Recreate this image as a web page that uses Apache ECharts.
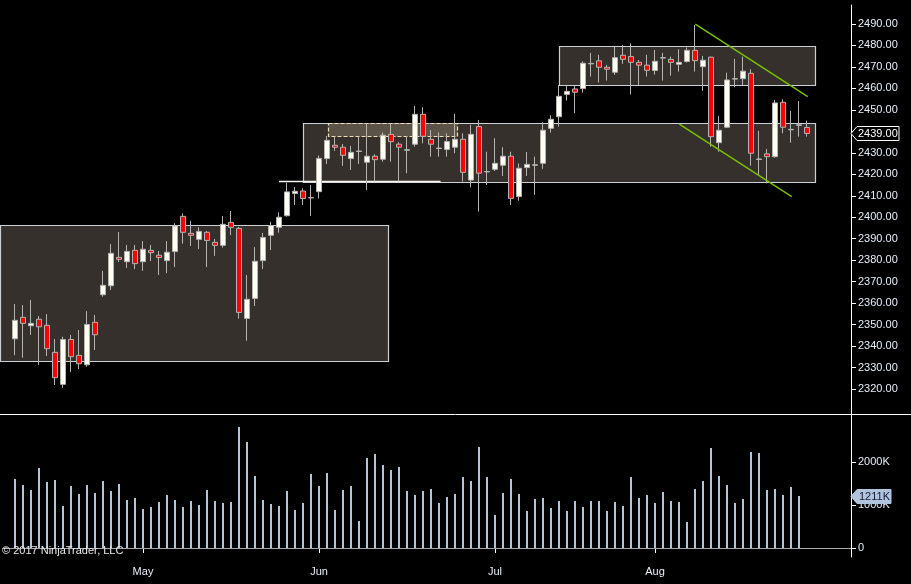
<!DOCTYPE html>
<html>
<head>
<meta charset="utf-8">
<title>ES daily</title>
<script src="https://cdn.jsdelivr.net/npm/echarts@6/dist/echarts.min.js"></script>
<style>
html, body { margin: 0; padding: 0; background: #000; }
#main { width: 911px; height: 584px; }
</style>
</head>
<body>
<div id="main"></div>
<script>
// trading days shown on the chart
var dates = [
	'2017-04-06','2017-04-07','2017-04-10','2017-04-11','2017-04-12','2017-04-13','2017-04-17','2017-04-18',
	'2017-04-19','2017-04-20','2017-04-21','2017-04-24','2017-04-25','2017-04-26','2017-04-27','2017-04-28',
	'2017-05-01','2017-05-02','2017-05-03','2017-05-04','2017-05-05','2017-05-08','2017-05-09','2017-05-10',
	'2017-05-11','2017-05-12','2017-05-15','2017-05-16','2017-05-17','2017-05-18','2017-05-19','2017-05-22',
	'2017-05-23','2017-05-24','2017-05-25','2017-05-26','2017-05-30','2017-05-31',
	'2017-06-01','2017-06-02','2017-06-05','2017-06-06','2017-06-07','2017-06-08','2017-06-09','2017-06-12',
	'2017-06-13','2017-06-14','2017-06-15','2017-06-16','2017-06-19','2017-06-20','2017-06-21','2017-06-22',
	'2017-06-23','2017-06-26','2017-06-27','2017-06-28','2017-06-29','2017-06-30',
	'2017-07-03','2017-07-05','2017-07-06','2017-07-07','2017-07-10','2017-07-11','2017-07-12','2017-07-13',
	'2017-07-14','2017-07-17','2017-07-18','2017-07-19','2017-07-20','2017-07-21','2017-07-24','2017-07-25',
	'2017-07-26','2017-07-27','2017-07-28','2017-07-31',
	'2017-08-01','2017-08-02','2017-08-03','2017-08-04','2017-08-07','2017-08-08','2017-08-09','2017-08-10',
	'2017-08-11','2017-08-14','2017-08-15','2017-08-16','2017-08-17','2017-08-18','2017-08-21','2017-08-22',
	'2017-08-23','2017-08-24','2017-08-25','2017-08-28'
];

// open, close, low, high
var ohlc = [
	[2343.4, 2352.0, 2335.8, 2359.6], [2353.4, 2350.6, 2334.6, 2359.1], [2349.5, 2350.6, 2345.2, 2361.5],
	[2352.5, 2349.0, 2331.2, 2354.0], [2349.7, 2338.8, 2335.4, 2354.9], [2337.1, 2325.3, 2321.9, 2343.3],
	[2322.2, 2343.1, 2320.6, 2344.4], [2343.1, 2335.1, 2327.9, 2345.2], [2335.7, 2331.8, 2329.3, 2347.5],
	[2331.3, 2350.1, 2330.4, 2356.3], [2351.1, 2345.3, 2338.2, 2354.5], [2363.9, 2368.3, 2363.0, 2375.0],
	[2368.1, 2383.2, 2366.1, 2387.5], [2381.3, 2380.4, 2379.2, 2393.1], [2379.3, 2384.1, 2376.4, 2387.1],
	[2384.6, 2378.4, 2375.9, 2387.1], [2379.3, 2385.1, 2375.0, 2388.9], [2384.6, 2383.5, 2379.6, 2387.1],
	[2382.3, 2381.2, 2373.1, 2384.3], [2379.8, 2383.7, 2374.0, 2388.9], [2384.0, 2395.9, 2376.8, 2397.2],
	[2400.4, 2393.0, 2387.7, 2401.8], [2392.5, 2391.6, 2386.6, 2398.3], [2389.7, 2393.4, 2385.2, 2395.3],
	[2393.0, 2389.2, 2376.8, 2393.6], [2388.3, 2386.9, 2382.0, 2389.9], [2386.9, 2396.7, 2385.8, 2400.6],
	[2397.6, 2395.3, 2391.7, 2402.9], [2394.8, 2355.7, 2352.8, 2395.5], [2352.9, 2361.8, 2342.5, 2373.1],
	[2362.2, 2379.5, 2358.7, 2386.1], [2379.8, 2390.6, 2375.9, 2392.7], [2391.6, 2396.1, 2384.7, 2397.9],
	[2395.3, 2400.0, 2392.8, 2402.3], [2400.7, 2411.8, 2400.3, 2416.1], [2411.0, 2412.1, 2405.7, 2414.1],
	[2412.2, 2408.7, 2405.7, 2413.5], [2409.0, 2409.2, 2400.6, 2415.0], [2411.9, 2427.4, 2408.7, 2428.7],
	[2427.3, 2435.8, 2424.8, 2437.8], [2433.5, 2432.6, 2430.9, 2437.5], [2432.6, 2428.8, 2423.9, 2434.1],
	[2427.3, 2430.2, 2422.0, 2433.2], [2430.6, 2430.8, 2424.8, 2437.5], [2425.6, 2428.4, 2412.7, 2443.7],
	[2428.4, 2426.8, 2416.6, 2429.3], [2427.0, 2438.2, 2425.9, 2439.5], [2438.6, 2435.2, 2425.9, 2443.7],
	[2434.0, 2432.6, 2416.6, 2434.9], [2431.2, 2431.4, 2420.5, 2437.8], [2434.0, 2447.9, 2432.9, 2451.8],
	[2447.9, 2437.7, 2434.4, 2451.2], [2436.3, 2434.0, 2428.2, 2440.6], [2432.0, 2432.2, 2428.2, 2439.5],
	[2431.5, 2435.2, 2428.2, 2439.1], [2432.6, 2436.3, 2429.8, 2448.1], [2436.3, 2420.9, 2416.6, 2439.1],
	[2417.3, 2438.6, 2413.9, 2443.0], [2442.2, 2420.5, 2402.6, 2445.3], [2421.1, 2421.3, 2415.0, 2430.5],
	[2422.3, 2425.1, 2421.5, 2436.8], [2424.2, 2428.4, 2419.2, 2432.6], [2428.4, 2408.8, 2405.7, 2430.5],
	[2409.6, 2422.8, 2407.7, 2425.1], [2423.1, 2424.6, 2419.2, 2430.4], [2424.2, 2424.4, 2410.4, 2428.2],
	[2425.1, 2440.5, 2422.5, 2444.2], [2441.4, 2445.6, 2439.4, 2447.5], [2446.8, 2456.3, 2442.2, 2461.6],
	[2457.2, 2458.6, 2454.3, 2461.1], [2459.7, 2458.2, 2448.4, 2461.1], [2459.9, 2471.7, 2458.0, 2472.5],
	[2471.4, 2471.6, 2465.5, 2476.5], [2472.8, 2469.8, 2462.7, 2475.6], [2469.8, 2468.9, 2463.6, 2470.9],
	[2467.5, 2474.3, 2466.3, 2479.4], [2475.4, 2473.5, 2471.4, 2480.2], [2474.8, 2472.1, 2457.1, 2481.0],
	[2472.1, 2470.8, 2461.6, 2473.2], [2470.8, 2468.4, 2465.5, 2475.6], [2468.3, 2472.6, 2466.4, 2477.9],
	[2474.1, 2474.3, 2463.6, 2476.5], [2473.5, 2472.1, 2465.9, 2474.8], [2471.2, 2472.1, 2467.8, 2478.2],
	[2472.5, 2477.7, 2472.0, 2479.0], [2477.7, 2472.9, 2467.8, 2489.5], [2470.1, 2473.1, 2458.8, 2475.1],
	[2474.5, 2437.5, 2432.9, 2474.8], [2434.7, 2440.5, 2430.5, 2447.2], [2441.9, 2463.9, 2441.5, 2467.3],
	[2464.3, 2464.5, 2460.5, 2473.7], [2464.5, 2468.0, 2461.6, 2474.8], [2467.0, 2429.8, 2424.0, 2468.9],
	[2426.9, 2427.1, 2419.4, 2440.2], [2429.5, 2428.2, 2415.8, 2431.8], [2428.2, 2453.2, 2427.7, 2454.6],
	[2453.5, 2441.9, 2439.1, 2454.9], [2440.7, 2440.9, 2434.7, 2449.5], [2442.8, 2443.0, 2437.5, 2454.1],
	[2441.8, 2439.0, 2437.5, 2445.0]
];

// volume in thousands (last bar has none yet)
var volumes = [
	1605, 1465, 1349, 1860, 1535, 1581, 977, 1442, 1256, 1465,
	1279, 1558, 1326, 1488, 1116, 1163, 907, 953, 1070, 1233,
	1116, 953, 1093, 1000, 1349, 1093, 1047, 1070, 2814, 2465,
	1674, 1116, 1023, 977, 1326, 884, 1047, 1721, 1442, 1744,
	884, 1349, 1442, 628, 2093, 2186, 1930, 1814, 1884, 1326,
	1233, 1326, 1372, 1047, 1186, 1256, 1651, 1558, 2349, 1651,
	767, 1279, 1605, 1256, 860, 1140, 1163, 930, 1093, 860,
	1093, 953, 1093, 1093, 860, 1070, 977, 1651, 1163, 1233,
	1047, 1302, 1093, 1070, 605, 1372, 1558, 2326, 1674, 1465,
	1047, 1140, 2233, 2209, 1349, 1372, 1233, 1419, 1211, '-'
];

// drawn objects, x in bar units (0 = first bar), y in price
var zones = [ // x start, x end, low, high
	[-1.875, 46.67, 2333.0, 2396.4],
	[36.0, 100.0, 2416.3, 2443.75],
	[68.0, 100.0, 2461.45, 2479.6]
];
var dashedZones = [
	[39.16, 55.3, 2437.8, 2443.75]
];
var levels = [ // x start, x end, price
	[33.0, 53.2, 2416.75]
];
var trendLines = [ // x1, y1, x2, y2
	[85.04, 2489.9, 99.09, 2456.1],
	[83.04, 2443.3, 97.09, 2409.6]
];

var priceTicks = [2320, 2330, 2340, 2350, 2360, 2370, 2380, 2390, 2400, 2410, 2420, 2430, 2440, 2450, 2460, 2470, 2480, 2490];
var volumeTicks = [0, 1000, 2000];
var monthNames = ['Jan','Feb','Mar','Apr','May','Jun','Jul','Aug','Sep','Oct','Nov','Dec'];

var categories = ['padL'].concat(dates).concat(['padR1', 'padR2', 'padR3', 'padR4', 'padR5']);
var monthStart = {};
for (var i = 1; i < dates.length; i++) {
	if (dates[i].slice(5, 7) !== dates[i - 1].slice(5, 7)) monthStart[dates[i]] = true;
}
var lastIdx = dates.length; // category index of the last bar
var lastClose = ohlc[ohlc.length - 1][1];
var lastVolume = volumes[volumes.length - 2];

var FONT = 'Liberation Sans, Arial, sans-serif';
var LABEL = '#e6eefa';

function barX(api, pos, y) {
	var c = api.coord([1, y]);
	return c[0] + pos * api.size([1, 0])[0];
}

var myChart = echarts.init(document.getElementById('main'));

var option = {
	backgroundColor: '#000',
	animation: false,
	title: {
		text: '\u00a9 2017 NinjaTrader, LLC',
		left: 2, top: 545, padding: 0,
		textStyle: { color: '#e8e8e8', fontSize: 11, fontWeight: 'normal', fontFamily: FONT }
	},
	graphic: [{
		type: 'line', z: 10,
		shape: { x1: 0, y1: 414.5, x2: 911, y2: 414.5 },
		style: { stroke: '#ffffff', lineWidth: 1 }
	}],
	grid: [
		{ left: 3, top: 5, width: 848, height: 409 },
		{ left: 3, top: 414, width: 848, height: 143 }
	],
	xAxis: [{
		type: 'category', gridIndex: 0, data: categories, boundaryGap: true,
		axisLine: { show: false }, axisTick: { show: false }, axisLabel: { show: false }, splitLine: { show: false }
	}, {
		type: 'category', gridIndex: 1, data: categories, boundaryGap: true,
		axisLine: { show: true, lineStyle: { color: '#ffffff', width: 1 } },
		axisTick: {
			show: true, alignWithLabel: true, length: 5, lineStyle: { color: '#ffffff' },
			interval: function (index, value) { return !!monthStart[value]; }
		},
		axisLabel: {
			color: LABEL, fontSize: 11, fontFamily: FONT, margin: 9,
			interval: function (index, value) { return !!monthStart[value]; },
			formatter: function (value) { return monthNames[parseInt(value.slice(5, 7), 10) - 1]; }
		},
		splitLine: { show: false }
	}],
	yAxis: [{
		type: 'value', gridIndex: 0, position: 'right', scale: true,
		min: 2308.4, max: 2498.8,
		axisLine: { show: true, lineStyle: { color: '#ffffff', width: 1 } },
		axisTick: { show: true, length: 5, lineStyle: { color: '#ffffff' }, customValues: priceTicks },
		axisLabel: {
			color: LABEL, fontSize: 11, fontFamily: FONT, margin: 7, customValues: priceTicks,
			formatter: function (v) { return v.toFixed(2); }
		},
		splitLine: { show: false }
	}, {
		type: 'value', gridIndex: 1, position: 'right',
		min: -209, max: 3116,
		axisLine: { show: true, lineStyle: { color: '#ffffff', width: 1 } },
		axisTick: { show: true, length: 5, lineStyle: { color: '#ffffff' }, customValues: volumeTicks },
		axisLabel: {
			color: LABEL, fontSize: 11, fontFamily: FONT, margin: 7, customValues: volumeTicks,
			formatter: function (v) { return v === 0 ? '0' : v + 'K'; }
		},
		splitLine: { show: false }
	}],
	series: [{
		// shaded zones
		type: 'custom', xAxisIndex: 0, yAxisIndex: 0, z: 1, silent: true, clip: false,
		data: zones,
		renderItem: function (params, api) {
			var b = zones[params.dataIndex];
			var x0 = barX(api, b[0], b[3]), x1 = barX(api, b[1], b[3]);
			var yTop = api.coord([1, b[3]])[1], yBot = api.coord([1, b[2]])[1];
			return {
				type: 'rect',
				shape: { x: Math.round(x0) + 0.5, y: Math.round(yTop) + 0.5, width: Math.round(x1 - x0), height: Math.round(yBot - yTop) },
				style: { fill: '#35302b', stroke: '#c8d0d8', lineWidth: 1.2 }
			};
		}
	}, {
		type: 'custom', xAxisIndex: 0, yAxisIndex: 0, z: 2, silent: true,
		data: dashedZones,
		renderItem: function (params, api) {
			var b = dashedZones[params.dataIndex];
			var x0 = barX(api, b[0], b[3]), x1 = barX(api, b[1], b[3]);
			var yTop = api.coord([1, b[3]])[1], yBot = api.coord([1, b[2]])[1];
			return {
				type: 'rect',
				shape: { x: Math.round(x0) + 0.5, y: Math.round(yTop) + 0.5, width: Math.round(x1 - x0), height: Math.round(yBot - yTop) },
				style: { fill: '#5b5248', stroke: '#f2dcb4', lineWidth: 1.2, lineDash: [4, 2] }
			};
		}
	}, {
		type: 'custom', xAxisIndex: 0, yAxisIndex: 0, z: 2, silent: true,
		data: levels,
		renderItem: function (params, api) {
			var l = levels[params.dataIndex];
			var y = Math.round(api.coord([1, l[2]])[1]) + 0.5;
			return {
				type: 'line',
				shape: { x1: barX(api, l[0], l[2]), y1: y, x2: barX(api, l[1], l[2]), y2: y },
				style: { stroke: '#f8f8f0', lineWidth: 1.5 }
			};
		}
	}, {
		type: 'candlestick', xAxisIndex: 0, yAxisIndex: 0, z: 3,
		data: ['-'].concat(ohlc),
		barWidth: 6,
		itemStyle: {
			color: '#fffff2', color0: '#ff0000',
			borderColor: '#b4b4b4', borderColor0: '#b4b4b4', borderWidth: 1
		}
	}, {
		type: 'custom', xAxisIndex: 0, yAxisIndex: 0, z: 4, silent: true,
		data: trendLines,
		renderItem: function (params, api) {
			var t = trendLines[params.dataIndex];
			return {
				type: 'line',
				shape: {
					x1: barX(api, t[0], t[1]), y1: api.coord([1, t[1]])[1],
					x2: barX(api, t[2], t[3]), y2: api.coord([1, t[3]])[1]
				},
				style: { stroke: '#78c000', lineWidth: 1.5 }
			};
		}
	}, {
		// last price tag on the axis
		type: 'custom', xAxisIndex: 0, yAxisIndex: 0, z: 6, silent: true, clip: false,
		data: [[lastIdx, lastClose]],
		renderItem: function (params, api) {
			var y = Math.round(api.coord([lastIdx, lastClose])[1]) + 0.5;
			var ax = params.coordSys.x + params.coordSys.width;
			return {
				type: 'group',
				children: [{
					type: 'polygon',
					shape: { points: [[ax, y], [ax + 6, y - 7], [ax + 48, y - 7], [ax + 48, y + 7], [ax + 6, y + 7]] },
					style: { fill: '#000', stroke: '#ffffff', lineWidth: 1 }
				}, {
					type: 'text',
					style: { text: lastClose.toFixed(2), x: ax + 7, y: y + 0.5, verticalAlign: 'middle', fill: '#ffffff', font: '11px ' + FONT }
				}]
			};
		}
	}, {
		type: 'bar', xAxisIndex: 1, yAxisIndex: 1, z: 3,
		data: ['-'].concat(volumes),
		barWidth: 2,
		itemStyle: { color: '#b0c4de' },
		markLine: {
			silent: true, symbol: 'none', animation: false,
			label: { show: false },
			lineStyle: { color: '#a8a8a8', width: 1, type: 'solid' },
			data: [{ yAxis: 0 }]
		}
	}, {
		// last volume tag on the axis
		type: 'custom', xAxisIndex: 1, yAxisIndex: 1, z: 6, silent: true, clip: false,
		data: [[lastIdx - 1, lastVolume]],
		renderItem: function (params, api) {
			var y = Math.round(api.coord([lastIdx - 1, lastVolume])[1]) + 0.5;
			var ax = params.coordSys.x + params.coordSys.width;
			return {
				type: 'group',
				children: [{
					type: 'polygon',
					shape: { points: [[ax, y], [ax + 6, y - 7], [ax + 40, y - 7], [ax + 40, y + 7], [ax + 6, y + 7]] },
					style: { fill: '#b0c4de', stroke: '#b0c4de', lineWidth: 1 }
				}, {
					type: 'text',
					style: { text: lastVolume + 'K', x: ax + 8, y: y + 0.5, verticalAlign: 'middle', fill: '#1a1a3a', font: '11px ' + FONT }
				}]
			};
		}
	}]
};

myChart.setOption(option);
</script>
</body>
</html>
